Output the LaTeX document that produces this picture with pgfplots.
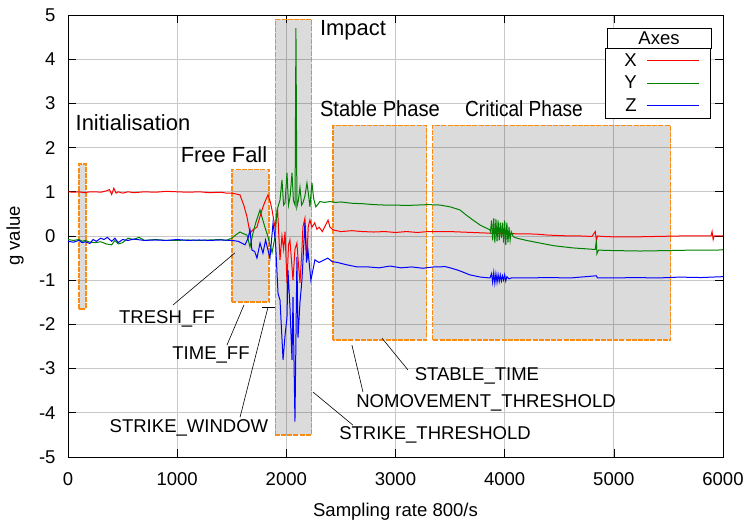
\documentclass[border=0pt]{standalone}
\usepackage{fontspec}
\setmainfont{Liberation Sans}
\usepackage{pgfplots}
\pgfplotsset{compat=1.18}
\definecolor{xred}{RGB}{255,0,0}
\definecolor{ygreen}{RGB}{0,128,0}
\definecolor{zblue}{RGB}{0,0,255}
\definecolor{boxorange}{RGB}{250,140,20}
\definecolor{gridgray}{RGB}{200,200,200}
\newcommand\fs{\fontsize{18.6}{22}\selectfont}
\newcommand\fr{\fontsize{22}{26}\selectfont}

\begin{document}
\begin{tikzpicture}
\useasboundingbox (-68bp,-65bp) rectangle (678bp,457bp);
\begin{axis}[
    at={(0,0)}, anchor=south west,
    scale only axis, width=655bp, height=442bp,
    xmin=0, xmax=6000, ymin=-5, ymax=5,
    xtick={0,1000,...,6000}, ytick={-5,-4,...,5},
    xticklabels={0,1000,2000,3000,4000,5000,6000},
    yticklabels={-5,-4,-3,-2,-1,0,1,2,3,4,5},
    scaled ticks=false,
    tick label style={font=\fs},
    xticklabel style={yshift=-12bp},
    yticklabel style={xshift=-9bp},
    xlabel={Sampling rate 800/s},
    ylabel={g value},
    label style={font=\fs},
    xlabel style={at={(rel axis cs:0.5,-0.1244)}, anchor=center},
    ylabel style={at={(rel axis cs:-0.0809,0.5)}, anchor=center},
    grid=major,
    major grid style={gridgray, line width=0.8bp},
    axis line style={black, line width=0.6bp},
    tick style={black, line width=0.6bp},
    major tick length=8bp,
    tick align=inside,
    clip=false,
    legend style={at={(rel axis cs:0.9817,0.9253)}, anchor=north east,
        draw=black, line width=0.6bp, fill=white, font=\fs,
        inner xsep=11bp, inner ysep=1bp, row sep=0bp,
        nodes={inner xsep=0bp, inner ysep=0bp, text width=20bp, align=right, minimum height=22.5bp},
        /tikz/every odd column/.append style={column sep=10bp}},
    legend plot pos=right,
    legend cell align=right,
    legend image code/.code={\draw[#1] (0bp,0bp) -- (52bp,0bp);},
]
% phase boxes
\tikzset{phase/.style={draw=boxorange, line width=1.6bp, dash pattern=on 5bp off 1.2bp, fill=black, fill opacity=0.14}}
\draw[phase] (axis cs:100,-1.65) rectangle (axis cs:165,1.63);
\draw[phase] (axis cs:1500,-1.5) rectangle (axis cs:1840,1.5);
\draw[phase] (axis cs:1900,-4.5) rectangle (axis cs:2232,4.9);
\draw[phase] (axis cs:2430,-2.35) rectangle (axis cs:3285,2.5);
\draw[phase] (axis cs:3340,-2.35) rectangle (axis cs:5520,2.5);

% X axis
\addplot[xred, line width=1bp] coordinates {
(0,1.0) (50,0.99) (100,1.0) (150,0.98) (200,1.0) (250,1.0) (300,0.99) (350,1.02)
(380,1.05) (400,0.94) (420,1.08) (440,0.97) (460,1.0) (500,0.97) (550,1.0) (600,0.98)
(700,1.0) (800,0.99) (900,1.01) (1000,1.0) (1100,0.99) (1200,1.0) (1300,0.98) (1400,0.99)
(1450,0.97) (1500,0.97) (1540,0.95) (1575,0.93) (1610,0.7) (1640,0.43) (1667,0.07)
(1700,0.15) (1731,0.2) (1760,0.45) (1777,0.59) (1800,0.75) (1832,0.93) (1850,0.8)
(1869,0.59) (1896,0.2) (1920,0.6) (1942,-0.54) (1960,0) (1975,-0.3) (1988,0.1)
(2006,-1.06) (2020,-0.2) (2033,-0.09) (2061,-1.0) (2079,-0.3) (2097,-0.16) (2110,-0.6)
(2125,-1.06) (2143,-0.3) (2152,0.2) (2170,0.4) (2189,-0.54) (2200,0.2) (2216,0.36)
(2235,0.2) (2260,0.3) (2280,0.15) (2300,0.2) (2330,0.1) (2360,0.25) (2382,0.36)
(2400,0.2) (2428,0.14) (2460,0.12) (2500,0.1) (2600,0.12) (2700,0.1) (2800,0.09)
(2900,0.1) (3000,0.08) (3100,0.1) (3200,0.08) (3300,0.1) (3400,0.1) (3500,0.1)
(3600,0.09) (3700,0.08) (3800,0.07) (3900,0.06) (4000,0.06) (4100,0.05) (4200,0.05)
(4300,0.04) (4400,0.02) (4500,0.01) (4600,0.0) (4700,0.0) (4800,-0.01) (4830,0.1)
(4840,-0.1) (4850,0.0) (4900,-0.01) (5000,-0.02) (5200,-0.02) (5400,-0.01) (5600,0.0)
(5800,0.0) (5890,0.0) (5900,0.1) (5910,-0.08) (5920,0.0) (6000,0.0)
};
\addlegendentry{X}
% Y axis
\addplot[ygreen, line width=1bp] coordinates {
(0,-0.08) (50,-0.1) (100,-0.08) (130,-0.12) (160,-0.1) (200,-0.14) (250,-0.15)
(300,-0.13) (350,-0.18) (400,-0.2) (430,-0.1) (460,-0.18) (500,-0.15) (550,-0.05)
(600,-0.08) (650,-0.03) (700,-0.1) (800,-0.08) (900,-0.1) (1000,-0.1) (1100,-0.09)
(1200,-0.1) (1300,-0.09) (1400,-0.08) (1450,-0.1) (1500,-0.05) (1540,0.03) (1575,0.09)
(1610,0.05) (1640,0.02) (1667,-0.25) (1695,0.07) (1720,0.3) (1759,0.59) (1780,0.4)
(1804,0.2) (1832,-0.02) (1869,-0.38) (1896,-0.02) (1915,0.59) (1942,0.81) (1960,1.27)
(1975,0.7) (1988,0.75) (2006,1.43) (2020,0.7) (2035,0.9) (2052,1.43) (2065,0.8)
(2080,0.7) (2088,4.7) (2097,0.66) (2110,0.8) (2125,1.1) (2140,0.7) (2152,0.75)
(2170,0.9) (2189,1.2) (2205,0.9) (2216,0.66) (2235,1.2) (2250,0.85) (2270,0.66)
(2290,0.72) (2308,0.78) (2350,0.76) (2400,0.78) (2450,0.76) (2500,0.77) (2600,0.74)
(2700,0.73) (2800,0.71) (2900,0.7) (3000,0.7) (3100,0.69) (3200,0.7) (3300,0.71)
(3407,0.7) (3500,0.66) (3590,0.59) (3650,0.47) (3710,0.36) (3780,0.24) (3865,0.14)
(3870,0.1) (3880,0.35) (3890,-0.1) (3900,0.4) (3910,-0.15) (3920,0.38) (3930,-0.12)
(3940,0.35) (3950,-0.1) (3960,0.3) (3970,-0.05) (3980,0.3) (3990,-0.15) (4000,0.35)
(4010,-0.2) (4020,0.3) (4030,-0.15) (4040,0.2) (4050,-0.1) (4060,0.1) (4080,-0.02)
(4113,-0.05) (4200,-0.1) (4323,-0.16) (4450,-0.22) (4626,-0.27) (4800,-0.3) (4830,-0.3)
(4840,-0.1) (4845,-0.4) (4860,-0.32) (5000,-0.33) (5240,-0.34) (5500,-0.33)
(5700,-0.32) (5945,-0.32) (6000,-0.31)
};
\addlegendentry{Y}
% Z axis
\addplot[zblue, line width=1bp] coordinates {
(0,-0.12) (50,-0.14) (100,-0.1) (130,-0.15) (160,-0.13) (200,-0.17) (230,-0.08)
(260,-0.12) (300,-0.05) (330,-0.08) (360,-0.03) (400,-0.12) (430,-0.05) (460,-0.15)
(500,-0.08) (550,-0.1) (600,-0.07) (700,-0.1) (800,-0.09) (900,-0.1) (1000,-0.08)
(1100,-0.1) (1200,-0.09) (1300,-0.1) (1400,-0.09) (1500,-0.1) (1560,-0.12)
(1621,-0.2) (1650,-0.05) (1667,0.14) (1685,-0.32) (1710,-0.35) (1731,-0.5)
(1759,-0.16) (1786,-0.39) (1810,-0.09) (1830,-0.3) (1850,-0.5) (1878,0.29)
(1900,-0.1) (1924,-1.3) (1942,-1.45) (1970,-2.8) (1990,-2.2) (2006,-1.84)
(2015,-0.77) (2033,-1.6) (2052,-2.8) (2061,-1.38) (2079,-4.2) (2097,-0.47)
(2107,-2.3) (2125,-1.5) (2143,-1.0) (2170,0.29) (2185,-0.6) (2198,-0.32) (2225,-1.0)
(2262,-0.54) (2300,-0.6) (2340,-0.55) (2380,-0.5) (2420,-0.58) (2470,-0.6)
(2550,-0.65) (2650,-0.7) (2750,-0.7) (2850,-0.72) (2950,-0.68) (3050,-0.72)
(3150,-0.7) (3250,-0.73) (3350,-0.7) (3407,-0.7) (3450,-0.69) (3500,-0.72)
(3580,-0.78) (3682,-0.88) (3780,-0.93) (3865,-0.95) (3880,-0.85) (3890,-1.05)
(3900,-0.83) (3910,-1.07) (3920,-0.85) (3930,-1.05) (3940,-0.87) (3950,-1.03)
(3960,-0.88) (3970,-1.02) (3980,-0.9) (3990,-1.0) (4000,-0.88) (4010,-1.02)
(4020,-0.92) (4040,-0.97) (4060,-0.95) (4200,-0.95) (4400,-0.94) (4600,-0.95)
(4840,-0.9) (4850,-0.95) (5000,-0.95) (5200,-0.94) (5400,-0.95) (5600,-0.93)
(5800,-0.94) (6000,-0.92)
};
\addlegendentry{Z}

% legend title
\draw[fill=white, line width=0.6bp] (rel axis cs:0.8229,0.9253) rectangle (rel axis cs:0.9817,0.9706);
\node[font=\fs] at (rel axis cs:0.9023,0.948) {Axes};

% phase labels
\node[font=\fr] at (axis cs:595,2.56) {Initialisation};
\node[font=\fr] at (axis cs:1429,1.83) {Free Fall};
\node[font=\fr] at (axis cs:2611,4.66) {Impact};
\node[font=\fr, xscale=0.92] at (axis cs:2858,2.87) {Stable Phase};
\node[font=\fr, xscale=0.87] at (axis cs:4177,2.87) {Critical Phase};

% parameter annotations
\draw[black, line width=0.6bp] (axis cs:962,-1.56) -- (axis cs:1530,-0.38);
\draw[black, line width=0.6bp] (axis cs:1456,-2.47) -- (axis cs:1612,-1.56);
\draw[black, line width=0.6bp] (axis cs:1576,-4.10) -- (axis cs:1832,-1.61);
\draw[black, line width=0.6bp] (axis cs:1777,-1.61) -- (axis cs:1896,-1.61);
\draw[black, line width=0.6bp] (axis cs:2244,-3.53) -- (axis cs:2611,-4.28);
\draw[black, line width=0.6bp] (axis cs:2601,-2.47) -- (axis cs:2702,-3.53);
\draw[black, line width=0.6bp] (axis cs:2876,-2.31) -- (axis cs:3114,-3.03);
\node[font=\fs] at (axis cs:907,-1.88) {TRESH\_FF};
\node[font=\fs] at (axis cs:1310,-2.69) {TIME\_FF};
\node[font=\fs] at (axis cs:1108,-4.34) {STRIKE\_WINDOW};
\node[font=\fs] at (axis cs:3362,-4.5) {STRIKE\_THRESHOLD};
\node[font=\fs] at (axis cs:3829,-3.78) {NOMOVEMENT\_THRESHOLD};
\node[font=\fs] at (axis cs:3746,-3.17) {STABLE\_TIME};
\end{axis}
\end{tikzpicture}
\end{document}
